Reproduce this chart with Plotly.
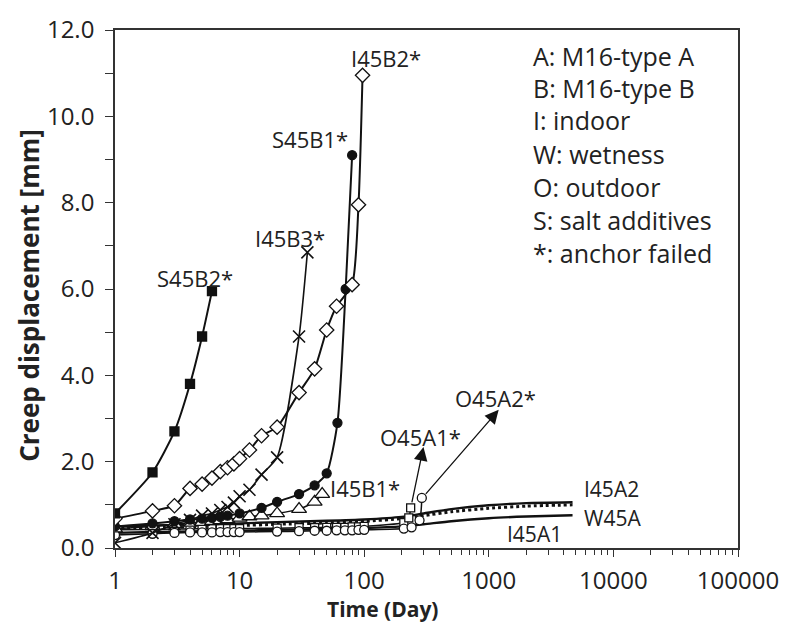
import numpy as np
import plotly.graph_objects as go

# ---------------- data ----------------
s45b2_t = [1, 2, 3, 4, 5, 6]
s45b2_y = [0.8, 1.75, 2.7, 3.8, 4.9, 5.95]

i45b2_t = [1, 2, 3, 4, 5, 6, 7, 8, 9, 10, 12, 15, 20, 30, 40, 50, 60, 80, 90, 97]
i45b2_y = [0.68, 0.86, 0.98, 1.38, 1.48, 1.62, 1.77, 1.86, 1.95, 2.07, 2.27, 2.6,
           2.8, 3.6, 4.15, 5.05, 5.6, 6.1, 7.95, 10.95]

i45b3_t = [1, 2, 3, 4, 5, 6, 7, 8, 9, 10, 12, 15, 20, 30, 35]
i45b3_y = [0.12, 0.35, 0.55, 0.65, 0.75, 0.8, 0.88, 0.95, 1.05, 1.2, 1.35, 1.7,
           2.1, 4.9, 6.85]

s45b1_t = [1, 2, 3, 4, 5, 6, 7, 8, 10, 15, 20, 30, 40, 50, 61, 71, 80]
s45b1_y = [0.5, 0.57, 0.62, 0.66, 0.68, 0.7, 0.72, 0.75, 0.8, 0.93, 1.07, 1.25,
           1.45, 1.73, 2.9, 6.0, 9.1]

i45b1_t = [1, 2, 3, 4, 5, 6, 7, 8, 10, 12, 15, 20, 30, 40, 46]
i45b1_y = [0.45, 0.5, 0.55, 0.58, 0.6, 0.62, 0.64, 0.66, 0.7, 0.73, 0.75, 0.8,
           0.9, 1.07, 1.25]

o45a1_t = [1, 2, 3, 4, 5, 6, 7, 8, 9, 10, 20, 30, 40, 50, 60, 70, 80, 90, 100,
           208, 228, 236]
o45a1_y = [0.42, 0.43, 0.44, 0.44, 0.45, 0.45, 0.45, 0.45, 0.45, 0.45, 0.46,
           0.47, 0.47, 0.48, 0.48, 0.48, 0.49, 0.49, 0.5, 0.59, 0.7, 0.93]

o45a2_t = [1, 2, 3, 4, 5, 6, 7, 8, 9, 10, 20, 30, 40, 50, 60, 70, 80, 90, 100,
           208, 240, 278, 290]
o45a2_y = [0.3, 0.33, 0.35, 0.36, 0.36, 0.36, 0.37, 0.37, 0.37, 0.37, 0.38,
           0.39, 0.4, 0.4, 0.41, 0.41, 0.41, 0.42, 0.42, 0.45, 0.48, 0.64, 1.16]

a_t = [1, 2, 5, 10, 20, 50, 100, 200, 300, 500, 1000, 2000, 4700]
i45a2_y = [0.5, 0.52, 0.55, 0.57, 0.6, 0.63, 0.66, 0.72, 0.8, 0.9, 0.99, 1.04, 1.06]
w45a_y = [0.45, 0.47, 0.5, 0.52, 0.55, 0.58, 0.62, 0.68, 0.75, 0.84, 0.92, 0.97, 1.0]
i45a1_y = [0.35, 0.37, 0.39, 0.4, 0.42, 0.44, 0.46, 0.5, 0.55, 0.62, 0.69, 0.73, 0.76]

x_tickvals = [1, 10, 100, 1000, 10000, 100000]
x_ticktext = ["1", "10", "100", "1000", "10000", "100000"]
y_tickvals = [0, 2, 4, 6, 8, 10, 12]
y_ticktext = ["0.0", "2.0", "4.0", "6.0", "8.0", "10.0", "12.0"]

legend_lines = ["A: M16-type A", "B: M16-type B", "I: indoor", "W: wetness",
                "O: outdoor", "S: salt additives", "*: anchor failed"]

# curve labels: (text, log10(day), displacement, font size)
curve_labels = [
    ("S45B2*", 0.643, 6.25, 22),
    ("I45B3*", 1.405, 7.18, 22),
    ("S45B1*", 1.563, 9.48, 22),
    ("I45B2*", 2.175, 11.35, 22),
    ("I45B1*", 2.008, 1.39, 22),
    ("O45A1*", 2.452, 2.57, 22),
    ("O45A2*", 3.056, 3.48, 22),
    ("I45A2", 3.984, 1.36, 21),
    ("W45A", 3.992, 0.70, 21),
    ("I45A1", 3.365, 0.32, 21),
]
# arrows: (head day, head disp, tail day, tail disp)
arrows = [
    (299, 2.34, 240, 1.02),
    (1200, 3.2, 305, 1.22),
]

FONT = "Open Sans"
BLACK = "#111111"

fig = go.Figure()

def add_line(t, y, dash="solid", width=2.2):
    fig.add_trace(go.Scatter(x=t, y=y, mode="lines",
                             line=dict(color=BLACK, width=width, dash=dash,
                                       shape="spline", smoothing=0.6),
                             showlegend=False, hoverinfo="skip"))

def add_series(t, y, symbol, size, fill, lw=1.8, mlw=1.3):
    fig.add_trace(go.Scatter(x=t, y=y, mode="lines+markers",
                             line=dict(color=BLACK, width=lw, shape="spline",
                                       smoothing=0.6),
                             marker=dict(symbol=symbol, size=size, color=fill,
                                         line=dict(color=BLACK, width=mlw)),
                             showlegend=False, hoverinfo="skip"))

add_line(a_t, i45a1_y, width=2.4)
add_line(a_t, i45a2_y, width=2.4)
add_line(a_t, w45a_y, dash="dot", width=3)

add_series(o45a1_t, o45a1_y, "square", 8, "white", lw=1.5)
add_series(o45a2_t, o45a2_y, "circle", 9, "white", lw=1.5)
add_series(i45b1_t, i45b1_y, "triangle-up", 13, "white", lw=1.5)
add_series(s45b1_t, s45b1_y, "circle", 9, BLACK, lw=2)
add_series(i45b3_t, i45b3_y, "x-thin", 12, BLACK, lw=1.6, mlw=1.6)
add_series(i45b2_t, i45b2_y, "diamond", 11, "white", lw=2)
add_series(s45b2_t, s45b2_y, "square", 9, BLACK, lw=2)

annotations = []
for txt, lx, yy, fs in curve_labels:
    annotations.append(dict(x=lx, y=yy, xref="x", yref="y", text=txt,
                            showarrow=False, font=dict(family=FONT, size=fs,
                                                       color="#222222")))
for hx, hy, tx, ty in arrows:
    annotations.append(dict(x=np.log10(hx), y=hy, ax=np.log10(tx), ay=ty,
                            xref="x", yref="y", axref="x", ayref="y", text="",
                            showarrow=True, arrowhead=2, arrowsize=2.1,
                            arrowwidth=1.3, arrowcolor=BLACK))

row_px = [46, 79, 112, 146, 180, 214, 247]
for txt, py in zip(legend_lines, row_px):
    annotations.append(dict(x=(536 - 115) / 630, y=(548 - py) / 528,
                            xref="paper", yref="paper", text=txt,
                            xanchor="left", yanchor="middle", showarrow=False,
                            font=dict(family=FONT, size=25, color="#222222")))

annotations.append(dict(x=(385 - 115) / 630, y=(548 - 610) / 528, xref="paper",
                        yref="paper", text="<b>Time (Day)</b>", showarrow=False,
                        xanchor="center", yanchor="middle",
                        font=dict(family=FONT, size=21, color="#222222")))
annotations.append(dict(x=(28 - 115) / 630, y=(548 - 290) / 528, xref="paper",
                        yref="paper", text="<b>Creep displacement [mm]</b>",
                        showarrow=False, textangle=-90, xanchor="center",
                        yanchor="middle",
                        font=dict(family=FONT, size=26, color="#222222")))

minor_x = [m * 10 ** k for k in range(0, 5) for m in range(2, 10)]

fig.update_layout(
    width=791, height=624,
    margin=dict(l=115, r=46, t=20, b=76),
    paper_bgcolor="white", plot_bgcolor="white",
    font=dict(family=FONT, size=24, color="#222222"),
    annotations=annotations,
    xaxis=dict(type="log", range=[0, 5], tickvals=x_tickvals,
               ticktext=x_ticktext, ticks="outside", ticklen=7, tickwidth=1.3,
               tickcolor="#333", showgrid=False, zeroline=False,
               showline=True, linecolor="#333", linewidth=1.6, mirror=True,
               ticklabelstandoff=3,
               minor=dict(tickvals=minor_x, ticks="outside", ticklen=5,
                          tickwidth=1.2, tickcolor="#333", showgrid=False)),
    yaxis=dict(range=[0, 12], tickvals=y_tickvals, ticktext=y_ticktext,
               ticks="outside", ticklen=8, tickwidth=1.3, tickcolor="#333",
               showgrid=False, zeroline=False, showline=True, linecolor="#333",
               linewidth=1.6, mirror=True, ticklabelstandoff=6,
               minor=dict(dtick=1, ticks="outside", ticklen=8, tickwidth=1.2,
                          tickcolor="#333", showgrid=False)),
)

fig.write_html("out.html")
